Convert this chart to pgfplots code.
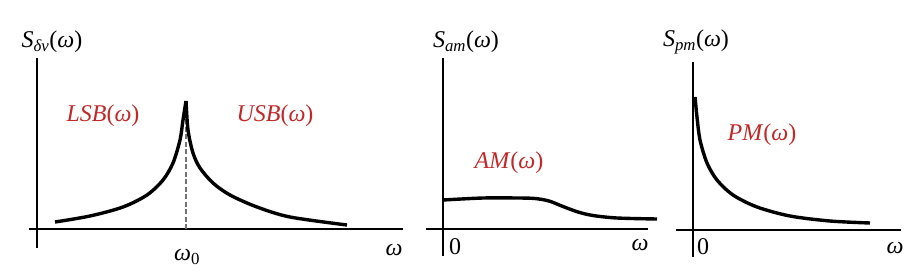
\documentclass[border=0pt]{standalone}
\usepackage{fontspec}
\setmainfont{Liberation Serif}
\usepackage{pgfplots}
\pgfplotsset{compat=1.18}
\definecolor{lblred}{RGB}{195,40,40}
\pgfplotsset{
  panel/.style={
    axis lines=middle,
    axis line style={-, line width=1.3pt, black},
    xtick=\empty, ytick=\empty,
    scale only axis,
    clip=false,
    anchor=origin,
  },
  curve/.style={line width=3.4pt, black, smooth, mark=none},
}
\newcommand{\lbl}{\fontsize{24}{28}\selectfont}
\newcommand{\w}{\textit{ω}}
\begin{document}
\begin{tikzpicture}[x=1pt,y=1pt]
\path[use as bounding box] (0,0) rectangle (922,-274);
% Panel 1
\begin{axis}[panel, at={(37pt,-229pt)},
  xmin=-8, xmax=366, ymin=-19, ymax=171,
  width=374pt, height=190pt]
\addplot[dash pattern=on 5pt off 2.5pt, black!55, line width=1.8pt] coordinates {(149,0) (149,118)};
\addplot[curve] coordinates {
(18,7) (53,13) (86,22) (110,34) (126,49) (136,66) (143,89) (146,109) (149,128)};
\addplot[curve] coordinates {
(149,128) (151,99) (156,76) (163,61) (176,46) (193,34) (220,22) (253,12) (310,4)};
\node[lblred] at (axis cs:66,113) {\lbl\textit{LSB}(\w)};
\node[lblred] at (axis cs:238,113) {\lbl\textit{USB}(\w)};
\node at (axis cs:15,187) {\lbl\textit{S}\textsubscript{\textit{δv}}(\w)};
\node at (axis cs:150,-28) {\lbl\w\textsubscript{0}};
\node at (axis cs:357,-21) {\lbl\w};
\end{axis}
% Panel 2
\begin{axis}[panel, at={(443pt,-229pt)},
  xmin=-17, xmax=205, ymin=-27, ymax=171,
  width=222pt, height=198pt]
\addplot[curve] coordinates {
(0,29) (40,31) (75,31) (92,30.5) (106,28) (120,22.5) (135,17) (150,13.5) (174,11) (214,10)};
\node[lblred] at (axis cs:66,66) {\lbl\textit{AM}(\w)};
\node at (axis cs:23,187) {\lbl\textit{S}\textsubscript{\textit{am}}(\w)};
\node at (axis cs:12,-18) {\lbl 0};
\node at (axis cs:197,-16) {\lbl\w};
\end{axis}
% Panel 3
\begin{axis}[panel, at={(693pt,-230pt)},
  xmin=-17, xmax=208, ymin=-27, ymax=168,
  width=225pt, height=195pt]
\addplot[curve] coordinates {
(2,133) (4,113) (7,90) (14,67) (24,50) (40,35) (64,23) (97,14) (137,9) (177,7)};
\node[lblred] at (axis cs:69,95) {\lbl\textit{PM}(\w)};
\node at (axis cs:3,188) {\lbl\textit{S}\textsubscript{\textit{pm}}(\w)};
\node at (axis cs:10,-17) {\lbl 0};
\node at (axis cs:202,-18) {\lbl\w};
\end{axis}
\end{tikzpicture}
\end{document}
